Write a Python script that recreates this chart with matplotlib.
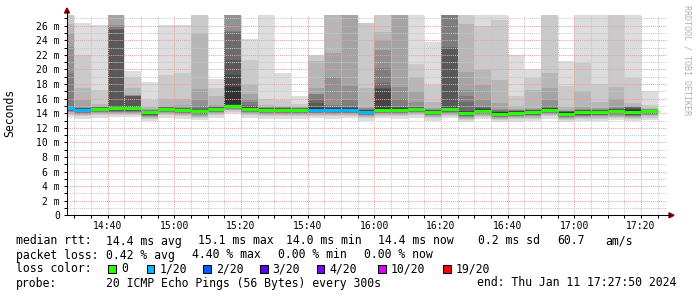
import matplotlib
matplotlib.use("Agg")
import matplotlib.pyplot as plt
import matplotlib.dates as mdates
from matplotlib.ticker import MultipleLocator, FuncFormatter
from matplotlib.patches import Rectangle, Polygon
import numpy as np
import pandas as pd

W, H = 697, 297

# ---------------- data ----------------
interval_start = pd.date_range("2024-01-11 14:25", periods=36, freq="5min")
view_start = pd.Timestamp("2024-01-11 14:27:50")
view_end = pd.Timestamp("2024-01-11 17:27:50")

median_ms = [14.7, 14.45, 14.6, 14.65, 14.65, 14.1, 14.6, 14.45, 14.25, 14.6,
             15.05, 14.6, 14.45, 14.45, 14.45, 14.5, 14.45, 14.5, 14.2, 14.5,
             14.45, 14.6, 14.2, 14.55, 14.0, 14.35, 13.95, 14.05, 14.15, 14.45,
             13.95, 14.1, 14.15, 14.25, 14.1, 14.3]

loss_count = [1, 1, 0, 0, 0, 0, 0, 0, 0, 0,
              0, 0, 0, 0, 0, 1, 1, 1, 1, 0,
              0, 0, 0, 0, 0, 0, 0, 0, 0, 0,
              0, 0, 0, 0, 0, 0]

# sorted pings below the median (p0..p9), ms
pings_low = [
    [13.5, 13.8, 13.95, 14.1, 14.2, 14.28, 14.35, 14.42, 14.5, 14.6],
    [13.25, 13.55, 13.7, 13.85, 13.95, 14.03, 14.1, 14.17, 14.25, 14.35],
    [13.4, 13.7, 13.85, 14.0, 14.1, 14.18, 14.25, 14.32, 14.4, 14.5],
    [13.45, 13.75, 13.9, 14.05, 14.15, 14.23, 14.3, 14.37, 14.45, 14.55],
    [13.45, 13.75, 13.9, 14.05, 14.15, 14.23, 14.3, 14.37, 14.45, 14.55],
    [12.9, 13.2, 13.35, 13.5, 13.6, 13.68, 13.75, 13.82, 13.9, 14.0],
    [13.4, 13.7, 13.85, 14.0, 14.1, 14.18, 14.25, 14.32, 14.4, 14.5],
    [13.25, 13.55, 13.7, 13.85, 13.95, 14.03, 14.1, 14.17, 14.25, 14.35],
    [13.05, 13.35, 13.5, 13.65, 13.75, 13.83, 13.9, 13.97, 14.05, 14.15],
    [13.4, 13.7, 13.85, 14.0, 14.1, 14.18, 14.25, 14.32, 14.4, 14.5],
    [14.0, 14.2, 14.4, 14.5, 14.6, 14.7, 14.75, 14.8, 14.9, 15.2],
    [13.4, 13.7, 13.85, 14.0, 14.1, 14.18, 14.25, 14.32, 14.4, 14.5],
    [13.25, 13.55, 13.7, 13.85, 13.95, 14.03, 14.1, 14.17, 14.25, 14.35],
    [13.25, 13.55, 13.7, 13.85, 13.95, 14.03, 14.1, 14.17, 14.25, 14.35],
    [13.25, 13.55, 13.7, 13.85, 13.95, 14.03, 14.1, 14.17, 14.25, 14.35],
    [13.3, 13.6, 13.75, 13.9, 14.0, 14.08, 14.15, 14.22, 14.3, 14.4],
    [13.25, 13.55, 13.7, 13.85, 13.95, 14.03, 14.1, 14.17, 14.25, 14.35],
    [13.3, 13.6, 13.75, 13.9, 14.0, 14.08, 14.15, 14.22, 14.3, 14.4],
    [13.0, 13.3, 13.45, 13.6, 13.7, 13.78, 13.85, 13.92, 14.0, 14.1],
    [13.3, 13.6, 13.75, 13.9, 14.0, 14.08, 14.15, 14.22, 14.3, 14.4],
    [13.25, 13.55, 13.7, 13.85, 13.95, 14.03, 14.1, 14.17, 14.25, 14.35],
    [13.4, 13.7, 13.85, 14.0, 14.1, 14.18, 14.25, 14.32, 14.4, 14.5],
    [13.0, 13.3, 13.45, 13.6, 13.7, 13.78, 13.85, 13.92, 14.0, 14.1],
    [13.35, 13.65, 13.8, 13.95, 14.05, 14.13, 14.2, 14.27, 14.35, 14.45],
    [12.8, 13.1, 13.25, 13.4, 13.5, 13.58, 13.65, 13.72, 13.8, 13.9],
    [13.15, 13.45, 13.6, 13.75, 13.85, 13.93, 14.0, 14.07, 14.15, 14.25],
    [12.75, 13.05, 13.2, 13.35, 13.45, 13.53, 13.6, 13.67, 13.75, 13.85],
    [12.85, 13.15, 13.3, 13.45, 13.55, 13.63, 13.7, 13.77, 13.85, 13.95],
    [12.95, 13.25, 13.4, 13.55, 13.65, 13.73, 13.8, 13.87, 13.95, 14.05],
    [13.25, 13.55, 13.7, 13.85, 13.95, 14.03, 14.1, 14.17, 14.25, 14.35],
    [12.75, 13.05, 13.2, 13.35, 13.45, 13.53, 13.6, 13.67, 13.75, 13.85],
    [12.9, 13.2, 13.35, 13.5, 13.6, 13.68, 13.75, 13.82, 13.9, 14.0],
    [12.95, 13.25, 13.4, 13.55, 13.65, 13.73, 13.8, 13.87, 13.95, 14.05],
    [13.05, 13.35, 13.5, 13.65, 13.75, 13.83, 13.9, 13.97, 14.05, 14.15],
    [12.9, 13.2, 13.35, 13.5, 13.6, 13.68, 13.75, 13.82, 13.9, 14.0],
    [13.1, 13.4, 13.55, 13.7, 13.8, 13.88, 13.95, 14.02, 14.1, 14.2],
]

# sorted pings above the median (p10..p19), ms
pings_high = [
    [14.75, 14.8, 14.85, 14.9, 19.5, 23.1, 25.0, 26.3, 28.0, 29.0],
    [14.55, 14.6, 14.65, 14.7, 14.75, 14.9, 15.8, 17.4, 22.0, 26.4],
    [14.65, 14.7, 14.75, 14.8, 14.85, 14.9, 15.0, 15.3, 17.2, 26.1],
    [14.75, 14.9, 25.4, 25.5, 25.9, 26.1, 27.8, 28.0, 28.5, 29.0],
    [14.75, 14.85, 16.35, 16.4, 16.42, 16.45, 16.5, 17.4, 18.9, 19.8],
    [14.2, 14.25, 14.3, 14.35, 14.4, 14.5, 14.6, 14.9, 15.8, 18.3],
    [14.65, 14.7, 14.75, 14.8, 14.85, 14.9, 15.0, 16.0, 19.2, 26.1],
    [14.5, 14.55, 14.6, 14.65, 14.7, 14.8, 15.1, 16.0, 19.5, 26.1],
    [14.35, 14.4, 14.5, 14.7, 15.0, 15.8, 17.3, 25.0, 28.0, 29.0],
    [14.7, 14.75, 14.8, 14.85, 14.9, 14.95, 15.1, 16.3, 17.4, 18.7],
    [17.6, 19.2, 21.3, 25.2, 25.3, 27.7, 28.0, 28.5, 29.0, 29.5],
    [14.75, 14.85, 14.95, 15.1, 15.5, 15.9, 16.6, 17.9, 21.3, 24.2],
    [14.55, 14.6, 14.65, 14.7, 14.75, 14.8, 14.9, 15.1, 16.0, 29.0],
    [14.55, 14.6, 14.65, 14.7, 14.75, 14.8, 14.85, 15.0, 15.8, 19.5],
    [14.5, 14.55, 14.6, 14.65, 14.7, 14.75, 14.8, 14.9, 15.2, 16.4],
    [14.7, 14.9, 15.4, 16.0, 16.65, 16.7, 17.4, 21.1, 21.9, 22.0],
    [14.6, 14.7, 14.8, 14.9, 15.1, 19.0, 22.2, 28.0, 29.0, 29.5],
    [14.6, 14.7, 14.8, 14.9, 15.8, 17.8, 28.0, 29.0, 29.5, 30.0],
    [14.35, 14.4, 14.45, 14.5, 14.6, 14.7, 14.9, 17.5, 26.35, 26.4],
    [14.7, 17.35, 17.4, 18.1, 20.2, 22.7, 24.0, 25.2, 28.0, 29.0],
    [14.6, 14.7, 14.8, 14.9, 15.9, 17.6, 28.0, 29.0, 29.5, 30.0],
    [14.7, 14.75, 14.8, 14.85, 14.9, 15.6, 17.0, 19.0, 20.8, 29.0],
    [14.3, 14.35, 14.4, 14.45, 14.5, 14.6, 14.7, 15.6, 17.9, 23.8],
    [14.75, 14.9, 23.0, 23.1, 28.0, 28.5, 29.0, 29.5, 30.0, 30.5],
    [14.15, 14.25, 14.35, 15.6, 16.4, 17.2, 19.7, 26.3, 28.0, 29.0],
    [14.5, 14.6, 14.7, 14.8, 14.9, 15.8, 17.9, 19.9, 25.9, 29.0],
    [14.1, 14.15, 14.2, 14.3, 14.4, 14.6, 15.4, 18.6, 26.8, 29.0],
    [14.2, 14.25, 14.3, 14.35, 14.4, 14.5, 14.6, 15.0, 16.3, 22.0],
    [14.3, 14.35, 14.4, 14.45, 14.5, 14.6, 14.7, 17.2, 18.8, 20.1],
    [14.6, 14.65, 14.7, 14.75, 15.0, 15.8, 17.4, 19.5, 29.0, 29.5],
    [14.1, 14.15, 14.2, 14.25, 14.3, 14.35, 14.5, 14.9, 17.7, 21.1],
    [14.25, 14.3, 14.4, 14.45, 14.5, 14.6, 14.9, 17.0, 20.9, 29.0],
    [14.3, 14.35, 14.4, 14.45, 14.5, 14.55, 14.7, 15.6, 18.0, 29.0],
    [14.4, 14.5, 14.55, 14.6, 14.7, 14.9, 16.0, 17.6, 29.0, 29.5],
    [14.45, 14.6, 14.7, 14.8, 14.85, 14.9, 15.0, 15.4, 18.8, 29.0],
    [14.35, 14.4, 14.42, 14.45, 14.5, 14.55, 14.6, 14.7, 15.1, 17.05],
]

loss_levels = ["0", "1/20", "2/20", "3/20", "4/20", "10/20", "19/20"]
loss_colors = ["#26ff00", "#00b8ff", "#0059ff", "#5e00ff", "#7e00ff", "#dd00ff", "#ff0000"]
loss_color_by_count = {0: "#26ff00", 1: "#00b8ff", 2: "#0059ff", 3: "#5e00ff",
                       4: "#7e00ff", 10: "#dd00ff", 19: "#ff0000"}

legend_rtt = [("median rtt:", 16.0), ("14.4 ms avg", 106.3), ("15.1 ms max", 198.5),
              ("14.0 ms min", 286.3), ("14.4 ms now", 378.0), ("0.2 ms sd", 478.0),
              ("60.7", 557.0), ("am/s", 605.7)]
legend_loss = [("packet loss:", 16.0), ("0.42 % avg", 106.3), ("4.40 % max", 192.3),
               ("0.00 % min", 278.3), ("0.00 % now", 364.0)]
probe_text = "20 ICMP Echo Pings (56 Bytes) every 300s"
end_text = "end: Thu Jan 11 17:27:50 2024"

# ---------------- figure ----------------
fig = plt.figure(figsize=(W / 100, H / 100), dpi=100)
ax_l, ax_r, ax_t, ax_b = 67.0, 667.0, 15.0, 215.3
ax = fig.add_axes([ax_l / W, 1 - ax_b / H, (ax_r - ax_l) / W, (ax_b - ax_t) / H])
ax.set_facecolor("white")

x = mdates.date2num(interval_start.to_pydatetime())
wd = 5.0 / 1440.0
pings = np.hstack([np.array(pings_low), np.array(pings_high)])
n = pings.shape[1]
half = n // 2
for k in range(half):
    g = int(190 / half * (half - (k + 1))) + 50
    col = "#%02x%02x%02x" % (g, g, g)
    ax.bar(x, pings[:, n - 1 - k] - pings[:, k], bottom=pings[:, k], width=wd,
           align="edge", color=col, linewidth=0, zorder=1)

med_cols = [loss_color_by_count[c] for c in loss_count]
lc = ax.hlines(median_ms, x, x + wd, colors=med_cols, linewidth=2.2, zorder=4)
lc.set_capstyle("butt")

ax.set_xlim(mdates.date2num(view_start.to_pydatetime()), mdates.date2num(view_end.to_pydatetime()))
ax.set_ylim(0, 27.47)

ax.xaxis.set_major_locator(mdates.MinuteLocator(byminute=[0, 20, 40]))
ax.xaxis.set_minor_locator(mdates.MinuteLocator(byminute=list(range(0, 60, 5))))
ax.xaxis.set_major_formatter(mdates.DateFormatter("%H:%M"))
ax.yaxis.set_major_locator(MultipleLocator(2))
ax.yaxis.set_minor_locator(MultipleLocator(1))
ax.yaxis.set_major_formatter(FuncFormatter(lambda v, p: "0" if v == 0 else "%d m" % v))

ax.set_axisbelow(False)
ax.grid(which="major", color="#e8a0a0", linestyle=(0, (1, 1)), linewidth=0.75)
ax.grid(which="minor", color="#c8c8c8", linestyle=(0, (1, 1)), linewidth=0.75)

for s in ["top", "right"]:
    ax.spines[s].set_visible(False)
for s in ["left", "bottom"]:
    ax.spines[s].set_color("black")
    ax.spines[s].set_linewidth(0.75)
    ax.spines[s].set_zorder(5)

ax.tick_params(which="both", direction="out", length=2.2, width=0.75, color="black",
               labelsize=7, labelcolor="black")
ax.tick_params(axis="x", pad=2)
ax.tick_params(axis="y", pad=3)
for lab in ax.get_xticklabels() + ax.get_yticklabels():
    lab.set_family("DejaVu Sans Mono")

# axis extensions and arrows (pixel coordinates)
def P(px, py):
    return (px / W, 1 - py / H)

fig.add_artist(plt.Line2D([P(ax_r, 0)[0], P(670, 0)[0]], [P(0, ax_b)[1]] * 2,
                          color="black", lw=0.75))
fig.add_artist(plt.Line2D([P(ax_l, 0)[0]] * 2, [P(0, ax_t)[1], P(0, 11)[1]],
                          color="black", lw=0.75))
fig.add_artist(Polygon([P(674, ax_b), P(669, ax_b - 2.5), P(669, ax_b + 2.5)],
                       closed=True, color="#800000", transform=fig.transFigure))
fig.add_artist(Polygon([P(ax_l, 8), P(ax_l - 2.5, 13), P(ax_l + 2.5, 13)],
                       closed=True, color="#800000", transform=fig.transFigure))

mono = "DejaVu Sans Mono"
fig.text(*P(10, 113), "Seconds", rotation=90, ha="center", va="center",
         family=mono, fontsize=8.3, color="black")
fig.text(*P(687, 60), "RRDTOOL / TOBI OETIKER", rotation=270, ha="center", va="center",
         family=mono, fontsize=6, color="#b0b0b0")

fs = 8.3
for txt, px in legend_rtt:
    fig.text(*P(px, 241), txt, ha="left", va="center", family=mono, fontsize=fs)
for txt, px in legend_loss:
    fig.text(*P(px, 255), txt, ha="left", va="center", family=mono, fontsize=fs)

fig.text(*P(16.0, 269), "loss color:", ha="left", va="center", family=mono, fontsize=fs)
sq_x = [108.3, 146.7, 203.3, 260.0, 316.7, 378.3, 443.3]
for lvl, colr, sx in zip(loss_levels, loss_colors, sq_x):
    fig.add_artist(Rectangle(P(sx, 272.7), 7.7 / W, 7.7 / H, transform=fig.transFigure,
                             facecolor=colr, edgecolor="black", linewidth=0.75))
    fig.text(*P(sx + 12.5, 269), lvl, ha="left", va="center", family=mono, fontsize=fs)

fig.text(*P(16.0, 283), "probe:", ha="left", va="center", family=mono, fontsize=fs)
fig.text(*P(106.3, 283), probe_text, ha="left", va="center", family=mono, fontsize=fs)
fig.text(*P(477.3, 283), end_text, ha="left", va="center", family=mono, fontsize=fs)

fig.savefig("out.png", dpi=100, facecolor="white")
